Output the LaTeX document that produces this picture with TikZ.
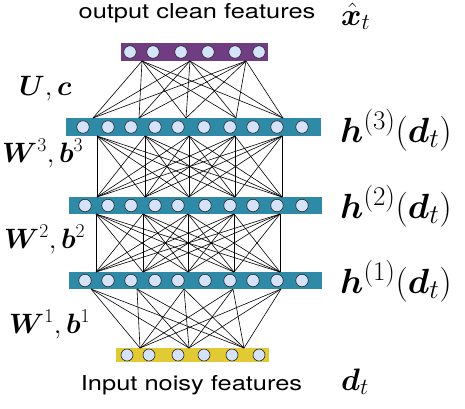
\RequirePackage{fix-cm}
\documentclass[tikz,border=0pt]{standalone}
\usepackage{amsmath,bm}
\usepackage{fontspec}
\newfontfamily\capfont[FakeStretch=1.24]{TeX Gyre Heros}
\DeclareMathSizes{35}{35}{27}{20}
\DeclareMathSizes{31}{31}{23}{17}
\definecolor{outcol}{RGB}{112,60,130}
\definecolor{hidcol}{RGB}{46,138,166}
\definecolor{incol}{RGB}{226,202,52}
\definecolor{unitcol}{RGB}{212,226,250}
\begin{document}
\begin{tikzpicture}[x=1pt,y=-1pt,
  bar/.style={fill=#1,draw=none,inner sep=0pt,anchor=north west},
  unit/.style={circle,draw=black!85,line width=0.6pt,fill=unitcol,minimum size=12.5pt,inner sep=0pt},
  wire/.style={draw=black,line width=0.6pt},
  caption/.style={font=\capfont\fontsize{20.5}{22}\selectfont,inner sep=0pt,anchor=base},
  mathlab/.style={font=\fontsize{35}{38}\selectfont,inner sep=0pt,anchor=base west},
  toplab/.style={font=\fontsize{31}{34}\selectfont,inner sep=0pt,anchor=base west},
  wlab/.style={font=\fontsize{28}{30}\selectfont,inner sep=0pt,anchor=base west}]
\useasboundingbox (0,0) rectangle (465,408);

% layer bars
\node[bar=outcol,minimum width=147pt,minimum height=18pt] (outbar) at (121,43) {};
\node[bar=hidcol,minimum width=255pt,minimum height=18pt] (h3bar) at (66,118) {};
\node[bar=hidcol,minimum width=253pt,minimum height=17pt] (h2bar) at (69,197) {};
\node[bar=hidcol,minimum width=253pt,minimum height=17pt] (h1bar) at (69,272) {};
\node[bar=incol,minimum width=153pt,minimum height=14pt] (inbar) at (116,348) {};

% units
\foreach \x [count=\i] in {130,153,181,208,235,259}
  \node[unit] (o\i) at (\x,52) {};
\foreach \x [count=\i] in {83,108,131,155,178,204,230,253,277,302}
  \node[unit] (c\i) at (\x,127) {};
\foreach \x [count=\i] in {85,108,131,155,178,205,230,253,277,302}
  \node[unit] (b\i) at (\x,205.5) {};
\foreach \x [count=\i] in {85,108,131,155,178,205,230,253,277,302}
  \node[unit] (a\i) at (\x,280.5) {};
\foreach \x [count=\i] in {127,149,178,204,232,259}
  \node[unit,minimum size=12pt] (n\i) at (\x,355) {};

% attachment points on the bar edges
\foreach \x [count=\i] in {142,190,246} \coordinate (ob\i) at (\x,61);
\foreach \x [count=\i] in {93,139,186,236,283} \coordinate (ct\i) at (\x,118);
\foreach \x [count=\i] in {97,145,189,235,282} \coordinate (cb\i) at (\x,136);
\foreach \x [count=\i] in {97,145,189,235,282} \coordinate (bt\i) at (\x,197);
\foreach \x [count=\i] in {96,143,188,234,280} \coordinate (bb\i) at (\x,214);
\foreach \x [count=\i] in {96,143,188,234,280} \coordinate (at\i) at (\x,272);
\foreach \x [count=\i] in {91,137,184,233,281} \coordinate (ab\i) at (\x,289);
\foreach \x [count=\i] in {140,189,244} \coordinate (nt\i) at (\x,348);

% full connections between layers
\foreach \i in {1,...,3} \foreach \j in {1,...,5} \draw[wire] (ob\i) -- (ct\j);
\foreach \i in {1,...,5} \foreach \j in {1,...,5} \draw[wire] (cb\i) -- (bt\j);
\foreach \i in {1,...,5} \foreach \j in {1,...,5} \draw[wire] (bb\i) -- (at\j);
\foreach \i in {1,...,5} \foreach \j in {1,...,3} \draw[wire] (ab\i) -- (nt\j);

% captions
\node[caption] (outcap) at (197,18.5) {output clean features};
\node[caption] (incap) at (191.5,390) {Input noisy features};
\node[toplab] (xlab) at (341,25) {$\hat{\bm{x}}_t$};
\node[mathlab] (h3lab) at (340,142) {$\bm{h}^{(3)}(\bm{d}_t)$};
\node[mathlab] (h2lab) at (340,218) {$\bm{h}^{(2)}(\bm{d}_t)$};
\node[mathlab] (h1lab) at (340,293) {$\bm{h}^{(1)}(\bm{d}_t)$};
\node[toplab] (dlab) at (341,390) {$\bm{d}_t$};
\node[wlab] (uclab) at (19,95) {$\bm{U},\bm{c}$};
\node[wlab] (w3lab) at (2,162) {$\bm{W}^3,\bm{b}^3$};
\node[wlab] (w2lab) at (4,248) {$\bm{W}^2,\bm{b}^2$};
\node[wlab] (w1lab) at (9,333) {$\bm{W}^1,\bm{b}^1$};
\end{tikzpicture}
\end{document}
